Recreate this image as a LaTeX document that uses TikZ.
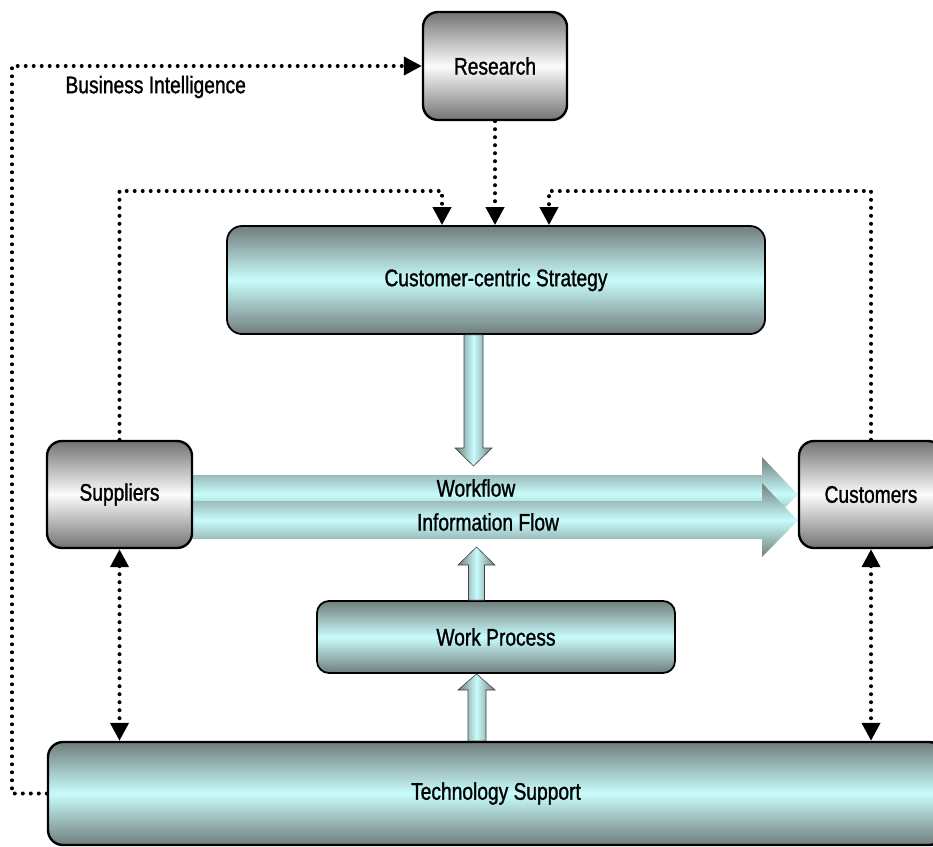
\documentclass[tikz,border=0pt]{standalone}
\usepackage{fontspec}
\setmainfont{Liberation Sans}[FakeStretch=0.8,FakeBold=1.2]
\usetikzlibrary{arrows.meta,calc}
\pgfdeclarelayer{bg}
\pgfsetlayers{bg,main}
\definecolor{grayedge}{RGB}{115,115,115}
\definecolor{graymid}{RGB}{252,252,252}
\definecolor{tealedge}{RGB}{112,126,124}
\definecolor{teallight}{RGB}{200,252,252}
\begin{document}
\begin{tikzpicture}[x=1pt,y=-1pt,
  lbl/.style={font=\fontsize{24}{28}\selectfont, text=black},
  graybox/.style={lbl, draw=black, line width=2.4pt, rounded corners=15pt,
    top color=grayedge, bottom color=grayedge, middle color=graymid, inner sep=0pt},
  tealbox/.style={lbl, draw=black, line width=1.8pt, rounded corners=15pt,
    top color=tealedge, bottom color=tealedge, middle color=teallight, inner sep=0pt},
  dotline/.style={line width=4pt, dash pattern=on 0pt off 8pt, line cap=round},
  onetip/.style={-{Triangle[length=18pt,width=18pt]}},
  twotip/.style={{Triangle[length=18pt,width=18pt]}-{Triangle[length=18pt,width=18pt]}},
  fatv/.style={draw=black!75, line width=0.6pt, left color=tealedge, right color=tealedge, middle color=teallight},
  fath/.style={top color=tealedge, bottom color=tealedge, middle color=teallight}
]
\useasboundingbox (0,0) rectangle (933,846);

% boxes
\node[graybox, minimum width=144pt, minimum height=108pt] (research) at (495,66) {Research};
\node[tealbox, minimum width=538pt, minimum height=108pt] (strategy) at (496,280) {Customer-centric Strategy};
\node[graybox, minimum width=145pt, minimum height=107pt] (sup) at (119.5,494.5) {Suppliers};
\node[graybox, minimum width=144pt, minimum height=107pt] (cust) at (871,494.5) {Customers};
\node[tealbox, rounded corners=12pt, minimum width=358pt, minimum height=72pt] (work) at (496,637) {Work Process};
\node[tealbox, line width=2.4pt, minimum width=896pt, minimum height=103pt] (tech) at (496,793.5) {Technology Support};

% main flow arrows (behind the boxes)
\begin{pgfonlayer}{bg}
\path[fath] (180,475) -- (762,475) -- (762,457) -- (cust.west) -- (762,531) -- (762,513) -- (180,513) -- cycle;
\path[fath] (180,501) -- (762,501) -- (762,483) -- ($(cust.west)+(0,26)$) -- (762,557) -- (762,539) -- (180,539) -- cycle;
\end{pgfonlayer}
\node[lbl] (wf) at (476,488) {Workflow};
\node[lbl] (inf) at (488,522) {Information Flow};

% fat vertical arrows
\path[fatv] (464,0 |- strategy.south) -- (464,448) -- (455,448) -- (473.5,466) -- (492,448) -- (483,448) -- (483,0 |- strategy.south) -- cycle;
\path[fatv] (468.5,0 |- work.north) -- (468.5,565) -- (458,565) -- (476.5,547) -- (495,565) -- (484.5,565) -- (484.5,0 |- work.north) -- cycle;
\path[fatv] (468,0 |- tech.north) -- (468,690) -- (458,690) -- (476.5,0 |- work.south) -- (495,690) -- (486,690) -- (486,0 |- tech.north) -- cycle;

% dotted connectors
\coordinate (bl) at (12,66);
\draw[dotline, onetip] (tech.west) -| (bl) -- (research.west);
\node[lbl, anchor=west] (bi) at (62,87) {Business Intelligence};

\coordinate (sl) at (442,191);
\coordinate (cl) at (549,191);
\draw[dotline, onetip] (sup.north) |- (sl) -- (sl |- strategy.north);
\draw[dotline, onetip] (research.south) -- (research.south |- strategy.north);
\draw[dotline, onetip] (cust.north) |- (cl) -- (cl |- strategy.north);

\draw[dotline, twotip] (sup.south) -- (sup.south |- tech.north);
\draw[dotline, twotip] (cust.south) -- (cust.south |- tech.north);
\end{tikzpicture}
\end{document}
